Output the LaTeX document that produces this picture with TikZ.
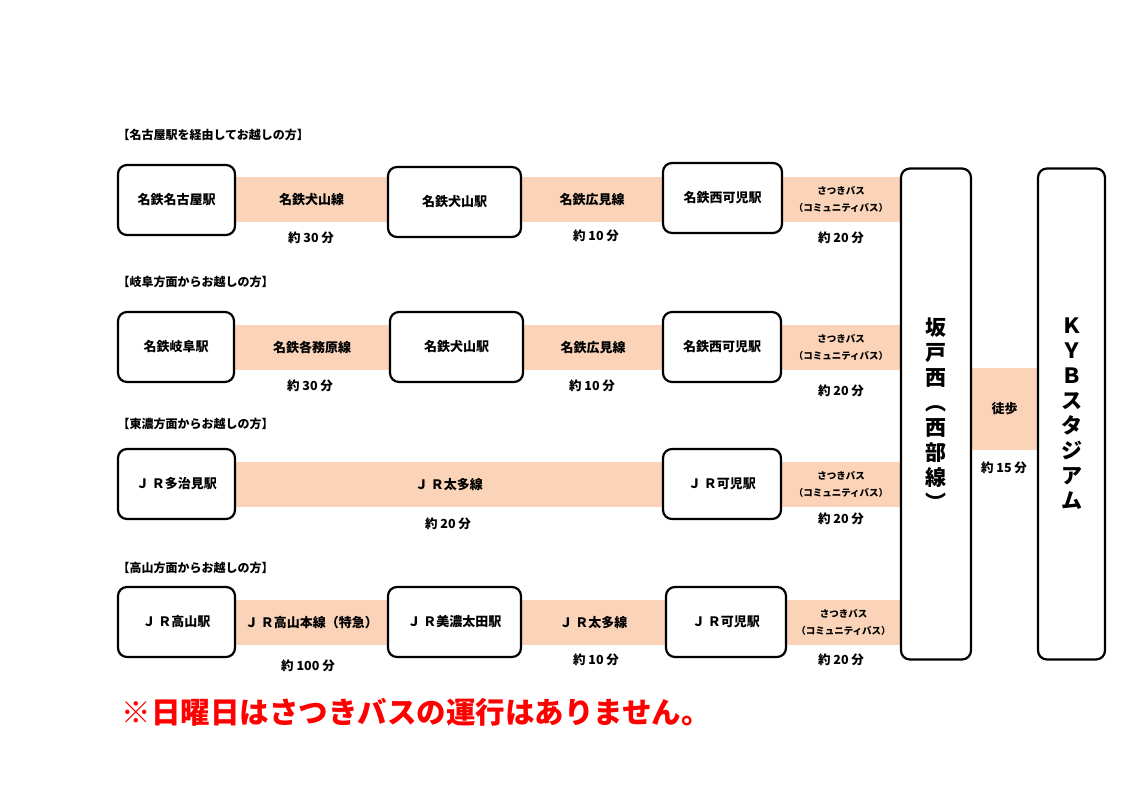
\documentclass[tikz,border=0pt]{standalone}
\usepackage{fontspec}
\setmainfont{Noto Sans CJK JP}
\usetikzlibrary{positioning}
\definecolor{bandcol}{HTML}{FAD3B8}
\tikzset{
  stationbox/.style={draw=black, line width=2.2pt, rounded corners=9pt, fill=white, text=black, font=\bfseries\fontsize{13}{15}\selectfont},
  band/.style={fill=bandcol, draw=none, inner sep=0pt, font=\bfseries\fontsize{13}{15}\selectfont},
  busband/.style={fill=bandcol, draw=none, inner sep=0pt, align=center, font=\bfseries\fontsize{9.5}{17}\selectfont},
  timelabel/.style={font=\bfseries\fontsize{12.5}{14}\selectfont},
  heading/.style={anchor=west, font=\bfseries\fontsize{12}{14}\selectfont},
}
\begin{document}
\begin{tikzpicture}[x=1pt, y=-1pt]
\useasboundingbox (0,0) rectangle (1122,793);
% bands
\node[band, minimum width=153, minimum height=45] (b11) at (311.5,199.5) {名鉄犬山線};
\node[band, minimum width=142, minimum height=45] (b12) at (592,199.5) {名鉄広見線};
\node[busband, minimum width=118, minimum height=45] (b13) at (841,199.5) {さつきバス\\（コミュニティバス）};
\node[band, minimum width=156, minimum height=45] (b21) at (312,347.5) {名鉄各務原線};
\node[band, minimum width=140, minimum height=45] (b22) at (593,347.5) {名鉄広見線};
\node[busband, minimum width=119, minimum height=45] (b23) at (841,347.5) {さつきバス\\（コミュニティバス）};
\node[band, minimum width=428, minimum height=45] (b31) at (449,484.5) {Ｊ Ｒ太多線};
\node[busband, minimum width=119, minimum height=45] (b33) at (841,484.5) {さつきバス\\（コミュニティバス）};
\node[band, minimum width=153, minimum height=45] (b41) at (311.5,622.5) {Ｊ Ｒ高山本線（特急）};
\node[band, minimum width=145, minimum height=45] (b42) at (593.5,622.5) {Ｊ Ｒ太多線};
\node[busband, minimum width=115, minimum height=45] (b43) at (843.5,622.5) {さつきバス\\（コミュニティバス）};
\node[band, minimum width=67, minimum height=82] (walk) at (1004.5,409) {徒歩};
% stations
\node[stationbox, minimum width=117, minimum height=70] (s11) at (176.5,200) {名鉄名古屋駅};
\node[stationbox, minimum width=133, minimum height=70] (s12) at (454.5,202) {名鉄犬山駅};
\node[stationbox, minimum width=119, minimum height=70] (s13) at (722.5,198) {名鉄西可児駅};
\node[stationbox, minimum width=116, minimum height=70] (s21) at (176,347) {名鉄岐阜駅};
\node[stationbox, minimum width=133, minimum height=70] (s22) at (456.5,347) {名鉄犬山駅};
\node[stationbox, minimum width=118, minimum height=70] (s23) at (722,347) {名鉄西可児駅};
\node[stationbox, minimum width=117, minimum height=70] (s31) at (176.5,484) {Ｊ Ｒ多治見駅};
\node[stationbox, minimum width=118, minimum height=70] (s33) at (722,484) {Ｊ Ｒ可児駅};
\node[stationbox, minimum width=117, minimum height=70] (s41) at (176.5,622) {Ｊ Ｒ高山駅};
\node[stationbox, minimum width=133, minimum height=70] (s42) at (454.5,622) {Ｊ Ｒ美濃太田駅};
\node[stationbox, minimum width=120, minimum height=70] (s43) at (726,622) {Ｊ Ｒ可児駅};
\node[stationbox, minimum width=70, minimum height=491, font=\bfseries\fontsize{21}{25}\selectfont, align=center] (sakado) at (936,414) {坂\\戸\\西\\︵\\西\\部\\線\\︶};
\node[stationbox, minimum width=67, minimum height=491, font=\bfseries\fontsize{21}{25}\selectfont, align=center] (kyb) at (1071.5,414) {Ｋ\\Ｙ\\Ｂ\\ス\\タ\\ジ\\ア\\ム};
% times
\node[timelabel] (t11) at (311,238) {約 30 分};
\node[timelabel] (t12) at (596,236) {約 10 分};
\node[timelabel] (t13) at (841,238) {約 20 分};
\node[timelabel] (t21) at (310,386) {約 30 分};
\node[timelabel] (t22) at (592,386) {約 10 分};
\node[timelabel] (t23) at (841,391) {約 20 分};
\node[timelabel] (t31) at (448,524) {約 20 分};
\node[timelabel] (t33) at (841,519) {約 20 分};
\node[timelabel] (t41) at (308,666) {約 100 分};
\node[timelabel] (t42) at (596,660) {約 10 分};
\node[timelabel] (t43) at (841,660) {約 20 分};
\node[timelabel] (twalk) at (1004,468) {約 15 分};
% headings
\node[heading] (h1) at (114,135) {【名古屋駅を経由してお越しの方】};
\node[heading] (h2) at (114,282) {【岐阜方面からお越しの方】};
\node[heading] (h3) at (114,424) {【東濃方面からお越しの方】};
\node[heading] (h4) at (114,568) {【高山方面からお越しの方】};
\node[anchor=west, text=red, font=\bfseries\fontsize{29.5}{33}\selectfont] (note) at (118,712) {※日曜日はさつきバスの運行はありません。};
\end{tikzpicture}
\end{document}
